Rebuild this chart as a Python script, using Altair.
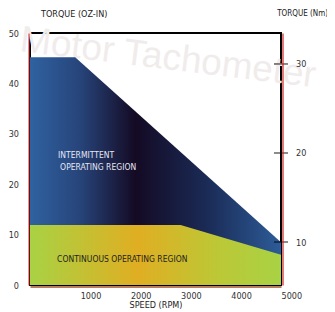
import altair as alt
import pandas as pd

# ---- data ----
speed_int = [0, 900, 5000]
torque_int = [45.2, 45.2, 8.5]
speed_cont = [0, 3000, 5000]
torque_cont = [11.9, 11.9, 6.0]
oz_ticks = [0, 10, 20, 30, 40, 50]
nm_ticks = [10, 20, 30]
speed_ticks = [1000, 2000, 3000, 4000, 5000]
label_speed = [560, 600]
label_torque = [25.8, 23.4]
label_text = ["INTERMITTENT", "OPERATING REGION"]
cont_label = "CONTINUOUS  OPERATING REGION"
cont_speed = 540
cont_torque = 5.2
watermark = "Motor Tachometer"

FONT = "DejaVu Sans Condensed, sans-serif"

x_scale = alt.Scale(domain=[0, 5000], nice=False, zero=False)
y_scale = alt.Scale(domain=[0, 50], nice=False)
nm_scale = alt.Scale(domain=[5.17, 33.48], nice=False, zero=False)

df_int = pd.DataFrame({"speed": speed_int, "torque": torque_int})
df_cont = pd.DataFrame({"speed": speed_cont, "torque": torque_cont})
df_lab = pd.DataFrame({"speed": label_speed, "torque": label_torque, "t": label_text})
df_cont_lab = pd.DataFrame({"speed": [cont_speed], "torque": [cont_torque], "t": [cont_label]})
df_nm = pd.DataFrame({"nm": nm_ticks})
df_wm = pd.DataFrame({"speed": [2750], "torque": [45.0], "t": [watermark]})

blue_grad = alt.Gradient(
    gradient="linear", x1=0, x2=1, y1=0, y2=0,
    stops=[
        alt.GradientStop(offset=0, color="#2f62a0"),
        alt.GradientStop(offset=0.2, color="#27447a"),
        alt.GradientStop(offset=0.42, color="#140a24"),
        alt.GradientStop(offset=0.7, color="#1a2a55"),
        alt.GradientStop(offset=1, color="#2d5c98"),
    ],
)
green_grad = alt.Gradient(
    gradient="linear", x1=0, x2=1, y1=0, y2=0,
    stops=[
        alt.GradientStop(offset=0, color="#a8d244"),
        alt.GradientStop(offset=0.43, color="#e0ae22"),
        alt.GradientStop(offset=0.75, color="#bcc836"),
        alt.GradientStop(offset=1, color="#a8d244"),
    ],
)

x_enc = alt.X(
    "speed:Q", scale=x_scale,
    axis=alt.Axis(
        values=speed_ticks, format="d", title="SPEED (RPM)", ticks=False, grid=False,
        labelAlign="left", labelBaseline="top", labelPadding=5,
        domainColor="#a0522d", domainWidth=1.5, offset=1.5, zindex=1,
        titlePadding=0, titleFont=FONT, titleFontSize=9, titleFontWeight="normal",
        labelFont=FONT, labelFontSize=9, labelColor="#333333", titleColor="#222222",
    ),
)
y_enc = alt.Y(
    "torque:Q", scale=y_scale,
    axis=alt.Axis(
        values=oz_ticks, title="TORQUE (OZ-IN)", ticks=False, grid=False,
        labelPadding=10, domainColor="#d22020", domainWidth=1, offset=1.5, zindex=1,
        titleAngle=0, titleAlign="left", titleBaseline="middle", titleX=12, titleY=-20,
        titleFont=FONT, titleFontSize=9, titleFontWeight="normal", titleColor="#222222",
        labelFont=FONT, labelFontSize=9, labelColor="#333333",
    ),
)

area_int = alt.Chart(df_int).mark_area(fill=blue_grad, line=False).encode(x=x_enc, y=y_enc)
area_cont = alt.Chart(df_cont).mark_area(fill=green_grad).encode(x="speed:Q", y="torque:Q")
lab_int = alt.Chart(df_lab).mark_text(
    align="left", baseline="middle", font=FONT, fontSize=8.5, color="#e6e6f2"
).encode(x="speed:Q", y="torque:Q", text="t:N")
lab_cont = alt.Chart(df_cont_lab).mark_text(
    align="left", baseline="middle", font=FONT, fontSize=8.5, color="#1e1e1e"
).encode(x="speed:Q", y="torque:Q", text="t:N")
wm = alt.Chart(df_wm).mark_text(
    align="center", baseline="middle", font="Liberation Sans, Arial, sans-serif",
    fontSize=37, angle=7, color="#f1ecec",
).encode(x="speed:Q", y="torque:Q", text="t:N")

left_layer = alt.layer(wm, area_int, area_cont, lab_int, lab_cont)

nm_layer = alt.Chart(df_nm).mark_tick(
    orient="horizontal", size=14, thickness=1.3, color="#000000"
).encode(
    x=alt.datum(5000, type="quantitative"),
    y=alt.Y(
        "nm:Q", scale=nm_scale,
        axis=alt.Axis(
            orient="right", values=nm_ticks, title="TORQUE (Nm)", ticks=False, grid=False,
            labelPadding=13, domainColor="#d22020", domainWidth=1.2, offset=1.5, zindex=1,
            titleAngle=0, titleAlign="right", titleBaseline="middle", titleX=45, titleY=-20,
            titleFont=FONT, titleFontSize=8, titleFontWeight="normal", titleColor="#222222",
            labelFont=FONT, labelFontSize=9, labelColor="#333333",
        ),
    ),
)

chart = (
    alt.layer(left_layer, nm_layer)
    .resolve_scale(y="independent")
    .properties(
        width=251, height=252,
        autosize=alt.AutoSizeParams(type="none"),
        padding={"left": 22, "top": 25, "right": 46, "bottom": 27},
        background="white",
    )
    .configure_view(stroke="#000000", strokeWidth=2)
)

chart.save("out.html", embed_options={"renderer": "svg", "actions": False})
